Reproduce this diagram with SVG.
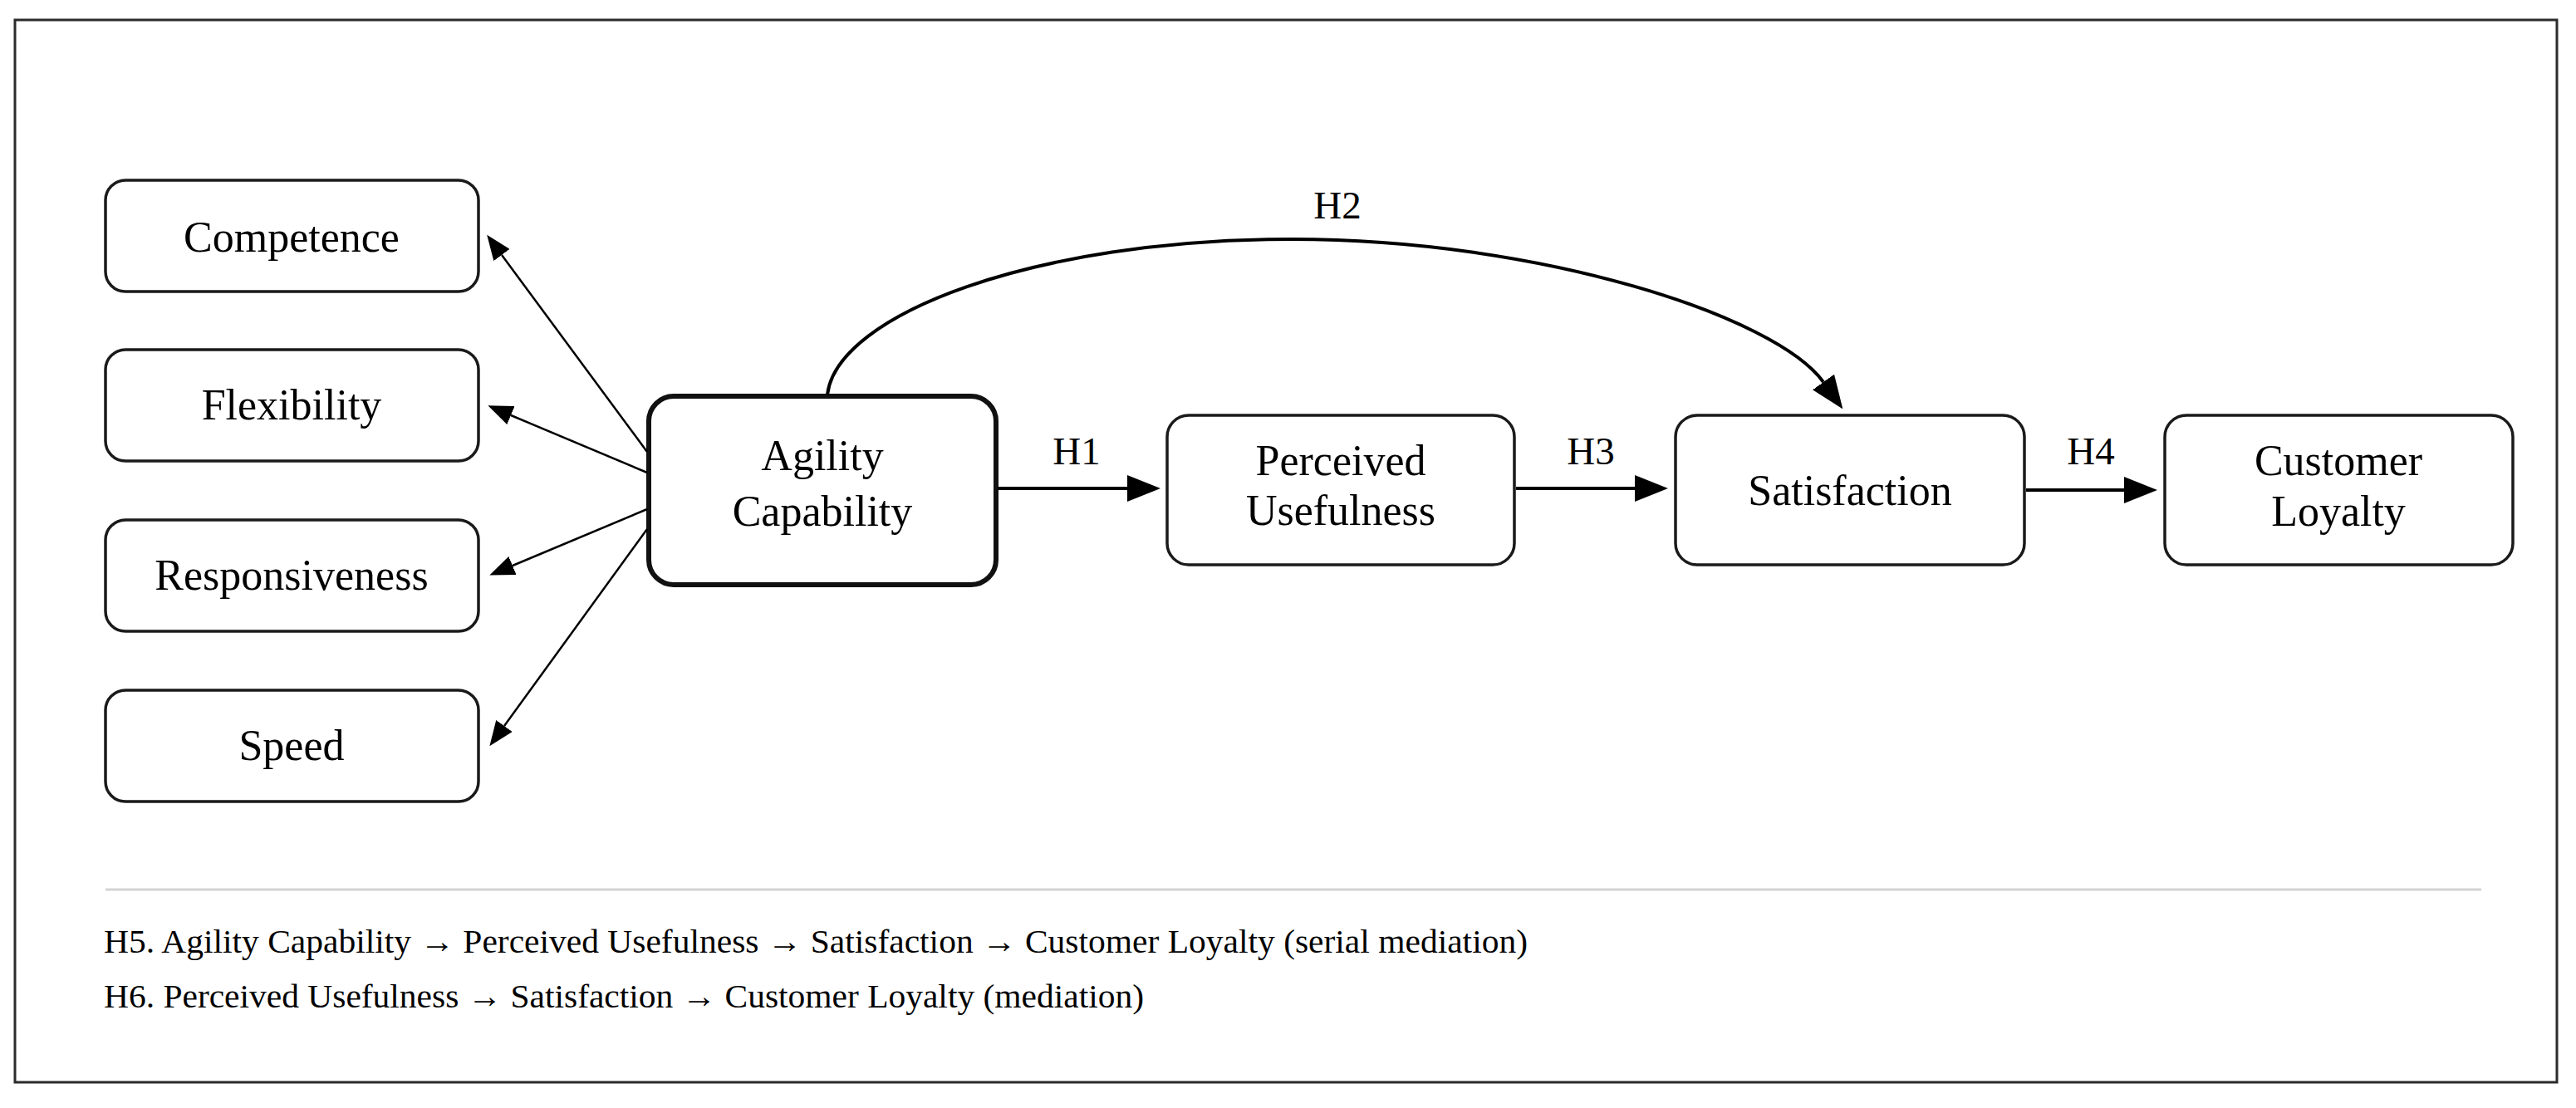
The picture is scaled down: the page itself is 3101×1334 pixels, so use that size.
<svg xmlns="http://www.w3.org/2000/svg" width="3101" height="1334" viewBox="0 0 3101 1334">
<style>
.box{fill:#fff;stroke:#1a1a1a;stroke-width:3.5}
.main{fill:#fff;stroke:#111;stroke-width:6}
.t{font-family:"Liberation Serif","Times New Roman",serif;font-size:52px;fill:#000;text-anchor:middle}
.lbl{font-family:"Liberation Serif","Times New Roman",serif;font-size:47px;fill:#000;text-anchor:middle}
.note{font-family:"Liberation Serif","Times New Roman",serif;font-size:40px;fill:#000}
.thick{fill:none;stroke:#000;stroke-width:4}
.thin{fill:none;stroke:#000;stroke-width:2.5}
</style>
<defs>
<marker id="ah" markerUnits="userSpaceOnUse" markerWidth="40" markerHeight="32" viewBox="0 0 40 32" refX="0" refY="16" orient="auto"><path d="M0,0 L40,16 L0,32 z" fill="#000"/></marker>
<marker id="as" markerUnits="userSpaceOnUse" markerWidth="30" markerHeight="24" viewBox="0 0 30 24" refX="0" refY="12" orient="auto"><path d="M0,0 L30,12 L0,24 z" fill="#000"/></marker>
</defs>
<rect x="0" y="0" width="3101" height="1334" fill="#fff"/>
<rect x="18" y="24" width="3060" height="1279" fill="#fff" stroke="#2b2b2b" stroke-width="3"/>
<g id="competence"><rect class="box" x="127" y="217" width="449" height="134" rx="24"/><text class="t" x="351" y="303">Competence</text></g>
<g id="flexibility"><rect class="box" x="127" y="421" width="449" height="134" rx="24"/><text class="t" x="351" y="505">Flexibility</text></g>
<g id="responsiveness"><rect class="box" x="127" y="626" width="449" height="134" rx="24"/><text class="t" x="351" y="710">Responsiveness</text></g>
<g id="speed"><rect class="box" x="127" y="831" width="449" height="134" rx="24"/><text class="t" x="351" y="915">Speed</text></g>
<g id="agility"><rect class="main" x="781" y="477" width="418" height="227" rx="30"/><text class="t" x="990" y="566">Agility</text><text class="t" x="990" y="633">Capability</text></g>
<g id="usefulness"><rect class="box" x="1405" y="500" width="418" height="180" rx="26"/><text class="t" x="1614" y="572">Perceived</text><text class="t" x="1614" y="632">Usefulness</text></g>
<g id="satisfaction"><rect class="box" x="2017" y="500" width="420" height="180" rx="26"/><text class="t" x="2227" y="608">Satisfaction</text></g>
<g id="loyalty"><rect class="box" x="2606" y="500" width="419" height="180" rx="26"/><text class="t" x="2815" y="572">Customer</text><text class="t" x="2815" y="633">Loyalty</text></g>
<g id="connectors">
<path class="thin" d="M779,544 L604,307" marker-end="url(#as)"/>
<path class="thin" d="M779,569 L615,500" marker-end="url(#as)"/>
<path class="thin" d="M779,613 L617,681" marker-end="url(#as)"/>
<path class="thin" d="M779,637 L607,874" marker-end="url(#as)"/>
<path class="thick" d="M1201,588 L1357,588" marker-end="url(#ah)"/>
<path class="thick" d="M1825,588 L1968,588" marker-end="url(#ah)"/>
<path class="thick" d="M2439,590 L2557,590" marker-end="url(#ah)"/>
<path class="thick" d="M996,475 C1008,378 1246,288 1555,288 C1855,288 2138,381 2195,460" marker-end="url(#ah)"/>
<text class="lbl" x="1296" y="559">H1</text>
<text class="lbl" x="1610" y="263">H2</text>
<text class="lbl" x="1915" y="559">H3</text>
<text class="lbl" x="2517" y="559">H4</text>
</g>
<line x1="127" y1="1071" x2="2987" y2="1071" stroke="#d3d3d3" stroke-width="3"/>
<text class="note" x="125" y="1147" textLength="1714" lengthAdjust="spacingAndGlyphs">H5. Agility Capability → Perceived Usefulness → Satisfaction → Customer Loyalty (serial mediation)</text>
<text class="note" x="125" y="1213" textLength="1252" lengthAdjust="spacingAndGlyphs">H6. Perceived Usefulness → Satisfaction → Customer Loyalty (mediation)</text>
</svg>
